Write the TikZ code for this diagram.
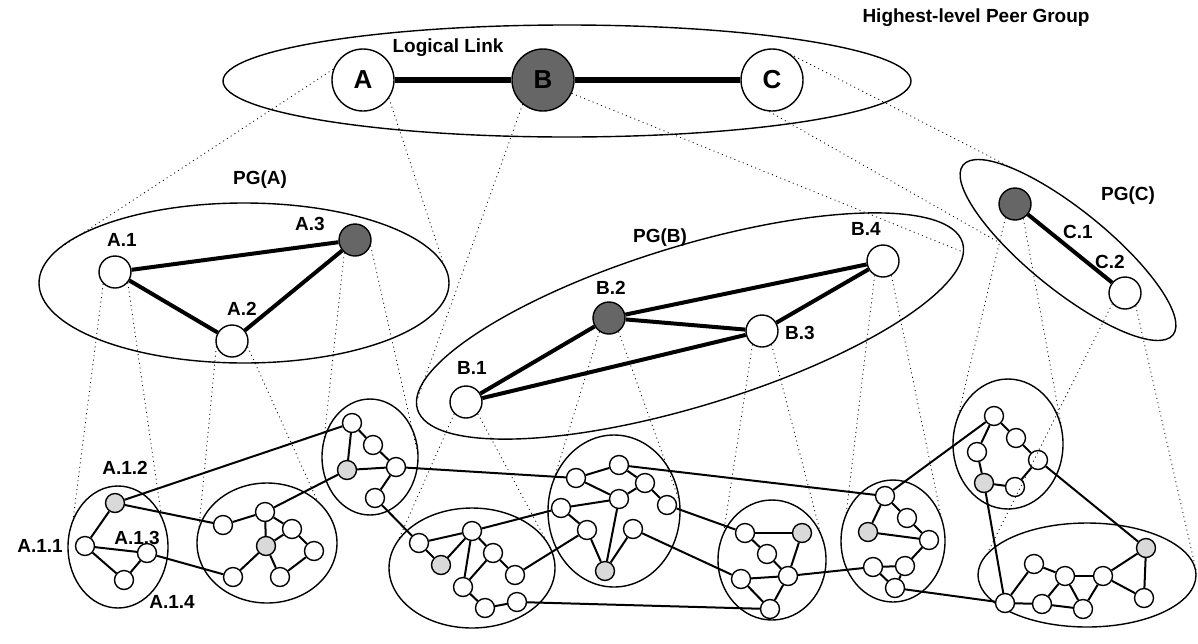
\documentclass[tikz,border=0pt]{standalone}
\usepackage{fontspec}
\setmainfont{Liberation Sans}
\usetikzlibrary{shapes.geometric}
\definecolor{darkg}{HTML}{666666}
\definecolor{lightg}{HTML}{D9D9D9}
\begin{document}
\begin{tikzpicture}[x=1pt,y=-1pt,
  grp/.style={draw, line width=1.4pt, ellipse, inner sep=0pt},
  bignode/.style={circle, draw, line width=1.4pt, minimum size=62pt, inner sep=0pt, fill=white, font=\fontsize{26}{26}\selectfont\bfseries},
  midnode/.style={circle, draw, line width=1.4pt, minimum size=32pt, inner sep=0pt, fill=white},
  smnode/.style={circle, draw, line width=1.4pt, minimum size=19pt, inner sep=0pt, fill=white},
  darkfill/.style={fill=darkg},
  lightfill/.style={fill=lightg},
  lbl/.style={font=\fontsize{19}{19}\selectfont\bfseries, inner sep=0pt},
  proj/.style={line width=0.8pt, dash pattern=on 1pt off 3.5pt},
  toplink/.style={line width=6pt},
  pglink/.style={line width=4pt},
  lnk/.style={line width=2pt}]
\fill[white] (0,0) rectangle (1198,643);
\useasboundingbox (0,0) rectangle (1198,643);

% ---------- group ellipses ----------
\node[grp, minimum width=688pt, minimum height=112pt] (top) at (567,81) {};
\node[grp, minimum width=410pt, minimum height=160pt] (pga) at (244,283) {};
\node[grp, minimum width=570pt, minimum height=160pt, rotate=17] (pgb) at (690,326) {};
\node[grp, minimum width=270pt, minimum height=80pt, rotate=-39] (pgc) at (1068,250) {};
\node[grp, minimum width=100pt, minimum height=122pt] (ea1) at (118,547) {};
\node[grp, minimum width=140pt, minimum height=120pt] (ea2) at (267,543) {};
\node[grp, minimum width=96pt, minimum height=116pt] (ea3) at (370,457) {};
\node[grp, minimum width=166pt, minimum height=120pt] (eb1) at (472,568) {};
\node[grp, minimum width=132pt, minimum height=152pt] (eb2) at (614,511) {};
\node[grp, minimum width=108pt, minimum height=120pt] (eb3) at (772,560) {};
\node[grp, minimum width=104pt, minimum height=122pt] (eb4) at (893,541) {};
\node[grp, minimum width=110pt, minimum height=130pt] (ec1) at (1008,444) {};
\node[grp, minimum width=218pt, minimum height=104pt] (ec2) at (1087,575) {};

% ---------- top level ----------
\node[bignode] (A) at (363,80) {A};
\node[bignode, darkfill] (B) at (543,80) {B};
\node[bignode] (C) at (772,80) {C};
\draw[toplink] (A) -- (B);
\draw[toplink] (B) -- (C);

% ---------- second level ----------
\node[midnode] (A1) at (115,272) {};
\node[midnode, darkfill] (A3) at (355,240) {};
\node[midnode] (A2) at (232,341) {};
\node[midnode] (B1) at (466,402) {};
\node[midnode, darkfill] (B2) at (609,318) {};
\node[midnode] (B3) at (762,331) {};
\node[midnode] (B4) at (883,261) {};
\node[midnode, darkfill] (C1) at (1015,204) {};
\node[midnode] (C2) at (1125,293) {};
\draw[pglink] (A1) -- (A3);
\draw[pglink] (A1) -- (A2);
\draw[pglink] (A2) -- (A3);
\draw[pglink] (B1) -- (B2);
\draw[pglink] (B1) -- (B3);
\draw[pglink] (B2) -- (B3);
\draw[pglink] (B2) -- (B4);
\draw[pglink] (B3) -- (B4);
\draw[pglink] (C1) -- (C2);

% ---------- lowest level ----------
% A.1 cluster
\node[smnode, lightfill] (a1a) at (115,503) {};
\node[smnode] (a1b) at (85,546) {};
\node[smnode] (a1c) at (147,553) {};
\node[smnode] (a1d) at (124,580) {};
% A.2 cluster
\node[smnode] (a2a) at (223,525) {};
\node[smnode] (a2b) at (265,512) {};
\node[smnode] (a2c) at (292,529) {};
\node[smnode, lightfill] (a2d) at (266,546) {};
\node[smnode] (a2e) at (314,551) {};
\node[smnode] (a2f) at (233,577) {};
\node[smnode] (a2g) at (280,577) {};
% A.3 cluster
\node[smnode] (a3a) at (352,423) {};
\node[smnode] (a3b) at (373,445) {};
\node[smnode, lightfill] (a3c) at (347,470) {};
\node[smnode] (a3d) at (396,467) {};
\node[smnode] (a3e) at (375,498) {};
% B.1 cluster
\node[smnode] (b1a) at (419,543) {};
\node[smnode, lightfill] (b1b) at (441,565) {};
\node[smnode] (b1c) at (472,531) {};
\node[smnode] (b1d) at (493,553) {};
\node[smnode] (b1e) at (515,575) {};
\node[smnode] (b1f) at (463,587) {};
\node[smnode] (b1g) at (485,608) {};
\node[smnode] (b1h) at (517,602) {};
% B.2 cluster
\node[smnode] (b2a) at (619,465) {};
\node[smnode] (b2b) at (576,478) {};
\node[smnode] (b2c) at (645,483) {};
\node[smnode] (b2d) at (619,499) {};
\node[smnode] (b2e) at (561,508) {};
\node[smnode] (b2f) at (667,505) {};
\node[smnode] (b2g) at (587,530) {};
\node[smnode] (b2h) at (633,529) {};
\node[smnode, lightfill] (b2i) at (605,571) {};
% B.3 cluster
\node[smnode] (b3a) at (745,533) {};
\node[smnode, lightfill] (b3b) at (802,533) {};
\node[smnode] (b3c) at (767,554) {};
\node[smnode] (b3d) at (741,579) {};
\node[smnode] (b3e) at (788,576) {};
\node[smnode] (b3f) at (770,609) {};
% B.4 cluster
\node[smnode] (b4a) at (885,496) {};
\node[smnode] (b4b) at (907,518) {};
\node[smnode, lightfill] (b4c) at (868,532) {};
\node[smnode] (b4d) at (929,540) {};
\node[smnode] (b4e) at (873,567) {};
\node[smnode] (b4f) at (905,566) {};
\node[smnode] (b4g) at (895,588) {};
% C.1 cluster
\node[smnode] (c1a) at (994,416) {};
\node[smnode] (c1b) at (1016,438) {};
\node[smnode] (c1c) at (977,452) {};
\node[smnode] (c1d) at (1038,460) {};
\node[smnode, lightfill] (c1e) at (984,483) {};
\node[smnode] (c1f) at (1015,487) {};
% C.2 cluster
\node[smnode] (c2a) at (1034,564) {};
\node[smnode] (c2b) at (1065,576) {};
\node[smnode] (c2c) at (1103,576) {};
\node[smnode, lightfill] (c2d) at (1146,548) {};
\node[smnode] (c2e) at (1005,603) {};
\node[smnode] (c2f) at (1042,604) {};
\node[smnode] (c2g) at (1083,609) {};
\node[smnode] (c2h) at (1144,598) {};

% internal links
\foreach \u/\v in {a1a/a1b, a1b/a1c, a1b/a1d, a1d/a1c,
  a2a/a2b, a2b/a2c, a2b/a2d, a2c/a2d, a2c/a2e, a2e/a2g, a2d/a2g, a2f/a2d,
  a3a/a3b, a3a/a3c, a3b/a3d, a3c/a3d, a3d/a3e,
  b1a/b1b, b1a/b1c, b1b/b1c, b1c/b1d, b1c/b1f, b1d/b1e, b1d/b1f, b1f/b1g, b1g/b1h,
  b2b/b2a, b2a/b2c, b2b/b2d, b2c/b2d, b2c/b2f, b2e/b2d, b2e/b2g, b2g/b2i, b2d/b2i, b2h/b2i,
  b3a/b3b, b3a/b3c, b3c/b3e, b3b/b3e, b3d/b3e, b3d/b3f, b3e/b3f,
  b4a/b4b, b4a/b4c, b4b/b4d, b4c/b4d, b4d/b4f, b4e/b4f, b4e/b4g, b4f/b4g,
  c1a/c1b, c1a/c1c, c1b/c1d, c1c/c1e, c1d/c1f, c1e/c1f,
  c2a/c2b, c2a/c2e, c2b/c2c, c2b/c2f, c2b/c2g, c2c/c2d, c2c/c2g, c2c/c2h, c2d/c2h, c2e/c2f, c2f/c2g}
  \draw[lnk] (\u) -- (\v);
% links between clusters
\foreach \u/\v in {a1a/a3a, a1a/a2a, a1c/a2f, a2b/a3c, a3e/b1a, a3d/b2b,
  b1c/b2e, b1e/b2g, b1h/b3f, b2a/b4a, b2f/b3a, b2h/b3d, b3e/b4e,
  b4a/c1a, b4g/c2e, c1d/c2d, c1e/c2e}
  \draw[lnk] (\u) -- (\v);

% ---------- projection lines ----------
\coordinate (pAl) at (60,248);   \coordinate (pAr) at (444,265);
\coordinate (pBl) at (417,400);  \coordinate (pBr) at (963,252);
\coordinate (pCl) at (1012,168); \coordinate (pCr) at (1000,243);
\coordinate (pA1l) at (73,520);  \coordinate (pA1r) at (161,513);
\coordinate (pA2l) at (199,527); \coordinate (pA2r) at (317,500);
\coordinate (pA3l) at (324,440); \coordinate (pA3r) at (418,455);
\coordinate (pB1l) at (398,541); \coordinate (pB1r) at (548,544);
\coordinate (pB2l) at (553,482); \coordinate (pB2r) at (679,500);
\coordinate (pB3l) at (724,530); \coordinate (pB3r) at (821,535);
\coordinate (pB4l) at (846,515); \coordinate (pB4r) at (944,530);
\coordinate (pC1l) at (957,420); \coordinate (pC1r) at (1062,430);
\coordinate (pC2l) at (988,552); \coordinate (pC2r) at (1196,570);
\draw[proj] (A.160) -- (pAl);   \draw[proj] (A.-35) -- (pAr);
\draw[proj] (B.-130) -- (pBl);  \draw[proj] (B.-25) -- (pBr);
\draw[proj] (C.55) -- (pCl);    \draw[proj] (C.-95) -- (pCr);
\draw[proj] (A1.225) -- (pA1l); \draw[proj] (A1.-40) -- (pA1r);
\draw[proj] (A2.200) -- (pA2l); \draw[proj] (A2.-20) -- (pA2r);
\draw[proj] (A3.230) -- (pA3l); \draw[proj] (A3.-20) -- (pA3r);
\draw[proj] (B1.225) -- (pB1l); \draw[proj] (B1.-45) -- (pB1r);
\draw[proj] (B2.235) -- (pB2l); \draw[proj] (B2.-55) -- (pB2r);
\draw[proj] (B3.235) -- (pB3l); \draw[proj] (B3.-55) -- (pB3r);
\draw[proj] (B4.240) -- (pB4l); \draw[proj] (B4.-60) -- (pB4r);
\draw[proj] (C1.235) -- (pC1l); \draw[proj] (C1.-60) -- (pC1r);
\draw[proj] (C2.220) -- (pC2l); \draw[proj] (C2.-50) -- (pC2r);

% ---------- labels ----------
\node[lbl] (tHL) at (976,18) {Highest-level Peer Group};
\node[lbl] (tLL) at (448,48) {Logical Link};
\node[lbl] (tPGA) at (260,180) {PG(A)};
\node[lbl] (tA1) at (122,240) {A.1};
\node[lbl] (tA3) at (310,224) {A.3};
\node[lbl] (tA2) at (242,309) {A.2};
\node[lbl] (tPGB) at (660,238) {PG(B)};
\node[lbl] (tB4) at (866,229) {B.4};
\node[lbl] (tB2) at (611,288) {B.2};
\node[lbl] (tB3) at (800,333) {B.3};
\node[lbl] (tB1) at (472,368) {B.1};
\node[lbl] (tPGC) at (1128,196) {PG(C)};
\node[lbl] (tC1) at (1078,232) {C.1};
\node[lbl] (tC2) at (1110,262) {C.2};
\node[lbl] (tA12) at (125,468) {A.1.2};
\node[lbl] (tA13) at (137,538) {A.1.3};
\node[lbl] (tA11) at (40,546) {A.1.1};
\node[lbl] (tA14) at (172,602) {A.1.4};
\end{tikzpicture}
\end{document}
